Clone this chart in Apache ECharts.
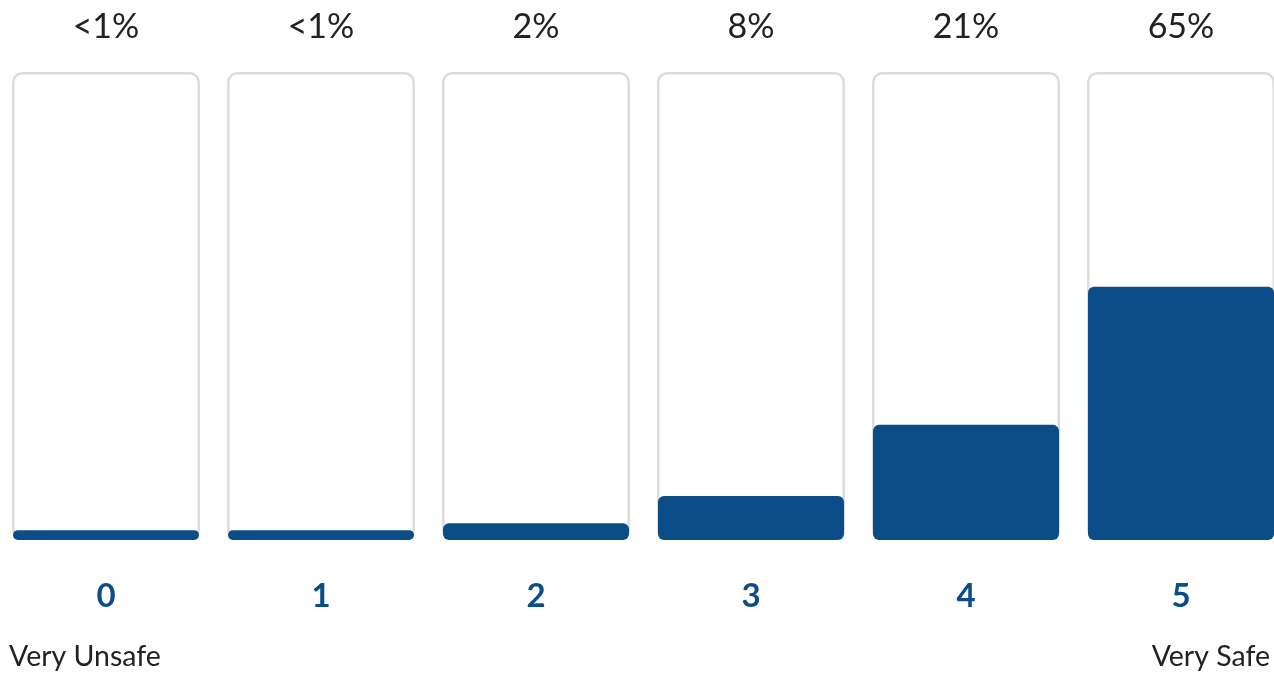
<!DOCTYPE html>
<html>
<head>
<meta charset="utf-8">
<script src="https://cdn.jsdelivr.net/npm/echarts@6/dist/echarts.min.js"></script>
<style>
  html, body { margin: 0; padding: 0; background: #fff; }
  #chart { width: 1274px; height: 676px; }
</style>
</head>
<body>
<div id="chart"></div>
<script>
// safety rating categories
const ratings = ['0', '1', '2', '3', '4', '5']
// share labels printed above each column
const shareLabels = ['<1%', '<1%', '2%', '8%', '21%', '65%']
// fill level of each column (as drawn, % of column height)
const fillLevel = [2.1, 2.1, 3.6, 9.4, 24.6, 54.1]
// column container height
const columnMax = [100, 100, 100, 100, 100, 100]

const blue = '#0b4d87'
const font = 'Lato, "Open Sans", sans-serif'

const chart = echarts.init(document.getElementById('chart'))
chart.setOption({
  animation: false,
  backgroundColor: '#fff',
  title: [
    {
      text: 'Very Unsafe',
      left: 9,
      top: 642,
      padding: 0,
      textStyle: { fontFamily: font, fontSize: 28.5, fontWeight: 'normal', color: '#222', lineHeight: 30 }
    },
    {
      text: 'Very Safe',
      right: 4,
      top: 642,
      padding: 0,
      textStyle: { fontFamily: font, fontSize: 28.5, fontWeight: 'normal', color: '#222', lineHeight: 30 }
    }
  ],
  grid: { left: -1.5, width: 1290, top: 72, height: 468, outerBoundsMode: 'none', containLabel: false },
  xAxis: [
    {
      type: 'category',
      position: 'bottom',
      data: ratings,
      axisLine: { show: false },
      axisTick: { show: false },
      axisLabel: { margin: 40, fontFamily: font, fontSize: 33, fontWeight: 'bold', color: blue }
    },
    {
      type: 'category',
      position: 'top',
      data: shareLabels,
      axisLine: { show: false },
      axisTick: { show: false },
      axisLabel: { margin: 28, fontFamily: font, fontSize: 34, color: '#222' }
    }
  ],
  yAxis: { type: 'value', min: 0, max: 100, show: false },
  series: [
    {
      name: 'column',
      type: 'bar',
      xAxisIndex: 0,
      barWidth: 188,
      silent: true,
      itemStyle: { color: '#fff', borderColor: '#dcdcdc', borderWidth: 2.5, borderRadius: 9 },
      data: columnMax
    },
    {
      name: 'share',
      type: 'bar',
      xAxisIndex: 1,
      barWidth: 186,
      itemStyle: { color: blue, borderRadius: 6 },
      data: fillLevel
    }
  ]
})
</script>
</body>
</html>
